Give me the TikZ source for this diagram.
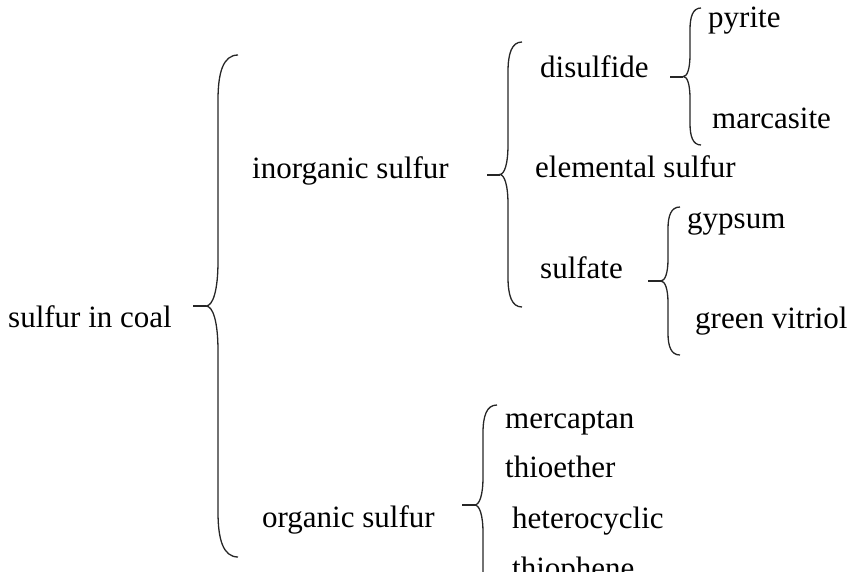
\documentclass[tikz,border=0pt]{standalone}
\usepackage{fontspec}
\setmainfont{Liberation Serif}
\begin{document}
\begin{tikzpicture}[x=1pt,y=-1pt,
  voce/.style={anchor=base west,inner sep=0pt,font=\fontsize{31}{36}\selectfont},
  graffa/.style={line width=1.3pt,color=black!85}]

% #1 x dorso, #2 alto, #3 basso, #4 larghezza ricciolo, #5 raggio
\newcommand{\graffa}[5]{%
\draw[graffa] ({#1+#4},#2) .. controls ({#1+0.25*#4},#2) and (#1,{#2+0.4*#5}) .. (#1,{#2+#5})
 -- (#1,{(#2+#3)/2-#5}) .. controls (#1,{(#2+#3)/2-0.35*#5}) and ({#1-0.25*#4},{(#2+#3)/2}) .. ({#1-0.6*#4},{(#2+#3)/2})
 .. controls ({#1-0.25*#4},{(#2+#3)/2}) and (#1,{(#2+#3)/2+0.35*#5}) .. (#1,{(#2+#3)/2+#5})
 -- (#1,{#3-#5}) .. controls (#1,{#3-0.4*#5}) and ({#1+0.25*#4},#3) .. ({#1+#4},#3);
\draw[graffa,line width=2pt] ({#1-0.6*#4},{(#2+#3)/2}) -- ++(-13,0);}

\useasboundingbox (0,0) rectangle (855,571);
\clip (0,0) rectangle (855,571);

%radice
\node[voce] (carbone) at (8,327) {sulfur in coal};
\graffa{218}{55}{557}{20}{45}

%zolfo inorganico
\node[voce] (inorg) at (252,178) {inorganic sulfur};
\graffa{508}{42}{307}{14}{30}
\node[voce] (disolf) at (540,77) {disulfide};
\node[voce] (elem) at (535,177) {elemental sulfur};
\node[voce] (solfato) at (540,278) {sulfate};

\graffa{690}{8}{145}{11}{22}
\node[voce] (pirite) at (708,27) {pyrite};
\node[voce] (marcas) at (712,128) {marcasite};

\graffa{668}{207}{355}{12}{22}
\node[voce] (gesso) at (687,228) {gypsum};
\node[voce] (vetriolo) at (695,328) {green vitriol};

%zolfo organico
\node[voce] (org) at (262,527) {organic sulfur};
\graffa{483}{405}{605}{14}{28}
\node[voce] (mercap) at (505,428) {mercaptan};
\node[voce] (tioet) at (505,477) {thioether};
\node[voce] (etero) at (512,528) {heterocyclic};
\node[voce] (tiof) at (512,578) {thiophene};

\end{tikzpicture}
\end{document}
